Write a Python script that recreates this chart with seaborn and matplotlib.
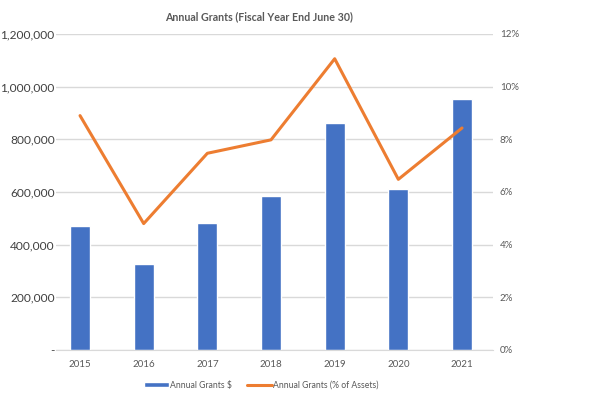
import pandas as pd
import matplotlib.pyplot as plt
import matplotlib.ticker as mticker
from matplotlib.patches import Patch
from matplotlib.lines import Line2D
import seaborn as sns

# Values
years = ["2015", "2016", "2017", "2018", "2019", "2020", "2021"]
grants_usd = [471000, 327000, 483000, 585000, 862000, 610000, 954000]
grants_pct = [8.9, 4.8, 7.47, 7.98, 11.06, 6.48, 8.43]

bar_color = "#4472C4"
line_color = "#ED7D31"
text_color = "#595959"

sns.set_style("white")
plt.rcParams["font.family"] = ["Lato", "DejaVu Sans"]

df = pd.DataFrame({"Year": years, "Grants": grants_usd, "Pct": grants_pct})

fig = plt.figure(figsize=(6.11, 3.97), dpi=100)
ax = fig.add_axes([0.0917, 0.1184, 0.7152, 0.796])

sns.barplot(data=df, x="Year", y="Grants", color=bar_color, width=0.31,
            saturation=1, ax=ax, zorder=2)
ax.set_xlim(-0.377, 6.487)
ax.set_ylim(0, 1200000)
ax.yaxis.set_major_locator(mticker.MultipleLocator(200000))
ax.yaxis.set_major_formatter(mticker.FuncFormatter(
    lambda v, p: "-" if v == 0 else f"{v:,.0f}"))
ax.grid(axis="y", color="#D9D9D9", linewidth=1, zorder=0)
ax.set_axisbelow(True)
ax.set_xlabel("")
ax.set_ylabel("")
ax.tick_params(axis="y", labelsize=8.6, colors="#404040", length=0, pad=1)
ax.tick_params(axis="x", labelsize=7, colors=text_color, length=0, pad=7)

ax2 = ax.twinx()
sns.pointplot(data=df, x="Year", y="Pct", color=line_color, marker="",
              linewidth=2.2, errorbar=None, ax=ax2)
ax2.set_xlim(-0.377, 6.487)
ax2.set_ylim(0, 12)
ax2.yaxis.set_major_locator(mticker.MultipleLocator(2))
ax2.yaxis.set_major_formatter(mticker.FuncFormatter(lambda v, p: f"{v:.0f}%"))
ax2.tick_params(axis="y", labelsize=7, colors=text_color, length=0, pad=5)
ax2.set_ylabel("")
ax2.set_xlabel("")

for a in (ax, ax2):
    for s in a.spines.values():
        s.set_visible(False)
ax.spines["bottom"].set_visible(True)
ax.spines["bottom"].set_color("#D9D9D9")

fig.text(0.424, 0.957, "Annual Grants (Fiscal Year End June 30)", ha="center",
         va="center", fontsize=7.7, fontweight="bold", color=text_color)

handles = [Patch(facecolor=bar_color, label="Annual Grants $"),
           Line2D([0], [0], color=line_color, linewidth=2.2,
                  label="Annual Grants (% of Assets)")]
fig.legend(handles=handles, loc="center", bbox_to_anchor=(0.428, 0.03), ncol=2,
           frameon=False, fontsize=6.2, labelcolor=text_color,
           handlelength=2.9, handleheight=0.6, handletextpad=0.1,
           columnspacing=1.8)

fig.savefig("out.png", dpi=100)
